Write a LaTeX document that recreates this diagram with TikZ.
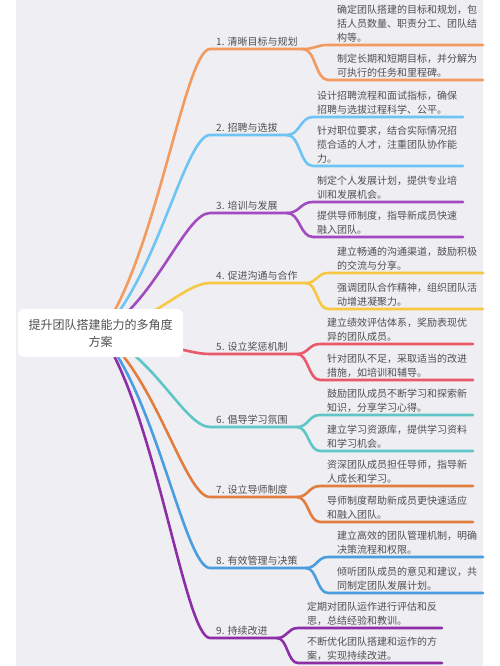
\documentclass[tikz,border=0pt]{standalone}
\usepackage{fontspec}
\setmainfont{Noto Sans CJK SC}
\usetikzlibrary{calc}
\pgfdeclarelayer{back}
\pgfdeclarelayer{bg}
\pgfsetlayers{back,bg,main}
\definecolor{bgc}{HTML}{EEEEF3}
\definecolor{c1}{HTML}{F39A5E}
\definecolor{c2}{HTML}{6EC4F2}
\definecolor{c3}{HTML}{A24BC0}
\definecolor{c4}{HTML}{F6C843}
\definecolor{c5}{HTML}{E9596B}
\definecolor{c6}{HTML}{5EC6C6}
\definecolor{c7}{HTML}{E27D3E}
\definecolor{c8}{HTML}{4A9DDE}
\definecolor{c9}{HTML}{8E2EA6}
\definecolor{txt}{HTML}{505050}
\begin{document}
\begin{tikzpicture}[x=1pt,y=-1pt,
  branch/.style={line width=2.6pt, line cap=round},
  lbl/.style={anchor=base west, inner sep=0pt, text=txt, font=\fontsize{10}{14}\selectfont},
  leaf/.style={anchor=base west, inner sep=0pt, text=txt, align=left, font=\fontsize{10}{14}\selectfont},
  rootbox/.style={fill=white, rounded corners=6pt, minimum width=165pt, minimum height=48pt, align=center, text=txt, font=\fontsize{12}{17}\selectfont, inner sep=0pt}]
\begin{pgfonlayer}{back}
\fill[white] (0,0) rectangle (500,666);
\fill[bgc] (16,0) rectangle (483,666);
\end{pgfonlayer}
\useasboundingbox (0,0) rectangle (500,666);

\node[rootbox] (root) at (100.5,333) {提升团队搭建能力的多角度\\方案};

\foreach \i/\yb/\xf/\xc/\xe/\ya/\yc in {
  1/49/303/328/483/45/80,
  2/135/287/313/463/117/166,
  3/213/287/313/463/202/237,
  4/283/306/328/483/273/309,
  5/354/297/320/473/344/380,
  6/427/297/320/473/415/451,
  7/497/297/320/473/486/522,
  8/568/306/328/483/557/593,
  9/638/277/298/442/628/663}{
  \coordinate (s\i) at (210,\yb);
  \coordinate (f\i) at (\xf,\yb);
  \coordinate (a\i) at (\xc,\ya);
  \coordinate (ae\i) at (\xe,\ya);
  \coordinate (b\i) at (\xc,\yc);
  \coordinate (be\i) at (\xe,\yc);
  \begin{pgfonlayer}{bg}
  \draw[branch, draw=c\i] (root.center) .. controls (155,{333+0.25*(\yb-333)}) and (185,\yb) .. (s\i) -- (f\i);
  \end{pgfonlayer}
  \draw[branch, draw=c\i] (f\i) .. controls ({(\xf+\xc)/2},\yb) and ({(\xf+\xc)/2},\ya) .. (a\i) -- (ae\i);
  \draw[branch, draw=c\i] (f\i) .. controls ({(\xf+\xc)/2},\yb) and ({(\xf+\xc)/2},\yc) .. (b\i) -- (be\i);
}

\node[lbl] (l1) at (216,45.5) {1. 清晰目标与规划};
\node[lbl] (l2) at (216,131.5) {2. 招聘与选拔};
\node[lbl] (l3) at (216,209.5) {3. 培训与发展};
\node[lbl] (l4) at (216,279.5) {4. 促进沟通与合作};
\node[lbl] (l5) at (216,350.5) {5. 设立奖惩机制};
\node[lbl] (l6) at (216,423.5) {6. 倡导学习氛围};
\node[lbl] (l7) at (216,493.5) {7. 设立导师制度};
\node[lbl] (l8) at (216,564.5) {8. 有效管理与决策};
\node[lbl] (l9) at (216,634.5) {9. 持续改进};

\node[leaf] (t1a) at (337,41.5) {确定团队搭建的目标和规划，包\\括人员数量、职责分工、团队结\\构等。};
\node[leaf] (t1b) at (337,76.5) {制定长期和短期目标，并分解为\\可执行的任务和里程碑。};
\node[leaf] (t2a) at (317,113.5) {设计招聘流程和面试指标，确保\\招聘与选拔过程科学、公平。};
\node[leaf] (t2b) at (317,162.5) {针对职位要求，结合实际情况招\\揽合适的人才，注重团队协作能\\力。};
\node[leaf] (t3a) at (317,198.5) {制定个人发展计划，提供专业培\\训和发展机会。};
\node[leaf] (t3b) at (317,233.5) {提供导师制度，指导新成员快速\\融入团队。};
\node[leaf] (t4a) at (337,269.5) {建立畅通的沟通渠道，鼓励积极\\的交流与分享。};
\node[leaf] (t4b) at (337,305.5) {强调团队合作精神，组织团队活\\动增进凝聚力。};
\node[leaf] (t5a) at (327,340.5) {建立绩效评估体系，奖励表现优\\异的团队成员。};
\node[leaf] (t5b) at (327,376.5) {针对团队不足，采取适当的改进\\措施，如培训和辅导。};
\node[leaf] (t6a) at (327,411.5) {鼓励团队成员不断学习和探索新\\知识，分享学习心得。};
\node[leaf] (t6b) at (327,447.5) {建立学习资源库，提供学习资料\\和学习机会。};
\node[leaf] (t7a) at (327,482.5) {资深团队成员担任导师，指导新\\人成长和学习。};
\node[leaf] (t7b) at (327,518.5) {导师制度帮助新成员更快速适应\\和融入团队。};
\node[leaf] (t8a) at (337,553.5) {建立高效的团队管理机制，明确\\决策流程和权限。};
\node[leaf] (t8b) at (337,589.5) {倾听团队成员的意见和建议，共\\同制定团队发展计划。};
\node[leaf] (t9a) at (307,624.5) {定期对团队运作进行评估和反\\思，总结经验和教训。};
\node[leaf] (t9b) at (307,659.5) {不断优化团队搭建和运作的方\\案，实现持续改进。};
\end{tikzpicture}
\end{document}
